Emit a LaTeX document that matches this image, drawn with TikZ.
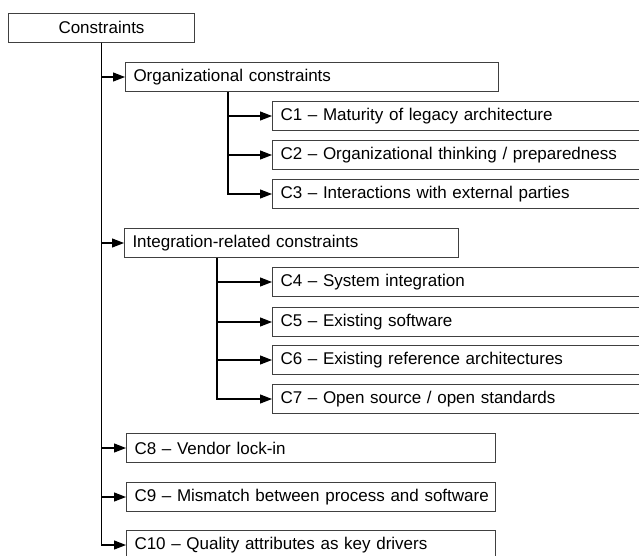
\documentclass[tikz,border=0pt]{standalone}
\usepackage{fontspec}
\setmainfont{Liberation Sans}
\usetikzlibrary{arrows.meta}

\begin{document}
\begin{tikzpicture}[x=1pt, y=-1pt, font=\fontsize{17}{20}\selectfont,
    link/.style={draw, line width=1.1pt, -{Triangle[length=12pt,width=9pt]}}]

        \useasboundingbox (0,0) rectangle (639,555);
        \clip (0,0) rectangle (639,555);

        \begin{scope}[every node/.style={draw=black!75, line width=1pt, anchor=west,
            minimum height=29pt, inner xsep=8pt, align=left}]
          \node[text width=170pt, align=center] (root) at (8,27.5) {Constraints};

          \node[text width=357pt] (org) at (125,77)  {Organizational constraints};
          \node[text width=404pt] (c1)  at (272,116) {C1 -- Maturity of legacy architecture};
          \node[text width=404pt] (c2)  at (272,155) {C2 -- Organizational thinking / preparedness};
          \node[text width=404pt] (c3)  at (272,194) {C3 -- Interactions with external parties};

          \node[text width=318pt] (int) at (124,243) {Integration-related constraints};
          \node[text width=404pt] (c4)  at (272,282) {C4 -- System integration};
          \node[text width=404pt] (c5)  at (272,322) {C5 -- Existing software};
          \node[text width=404pt] (c6)  at (272,360) {C6 -- Existing reference architectures};
          \node[text width=404pt] (c7)  at (272,399) {C7 -- Open source / open standards};

          \node[text width=353pt] (c8)  at (126,448) {C8 -- Vendor lock-in};
          \node[text width=353pt] (c9)  at (126,497) {\mbox{C9 -- Mismatch between process and software}};
          \node[text width=353pt] (c10) at (126,545) {C10 -- Quality attributes as key drivers};
        \end{scope}

        % main branch
        \draw[link] (root.south) |- (org.west);
        \draw[link] (root.south) |- (int.west);
        \draw[link] (root.south) |- (c8.west);
        \draw[link] (root.south) |- (c9.west);
        \draw[link] (root.south) |- (c10.west);

        % sub branches
        \draw[link] ([xshift=103pt]org.south west) |- (c1.west);
        \draw[link] ([xshift=103pt]org.south west) |- (c2.west);
        \draw[link] ([xshift=103pt]org.south west) |- (c3.west);

        \draw[link] ([xshift=93pt]int.south west) |- (c4.west);
        \draw[link] ([xshift=93pt]int.south west) |- (c5.west);
        \draw[link] ([xshift=93pt]int.south west) |- (c6.west);
        \draw[link] ([xshift=93pt]int.south west) |- (c7.west);

      \end{tikzpicture}
\end{document}
